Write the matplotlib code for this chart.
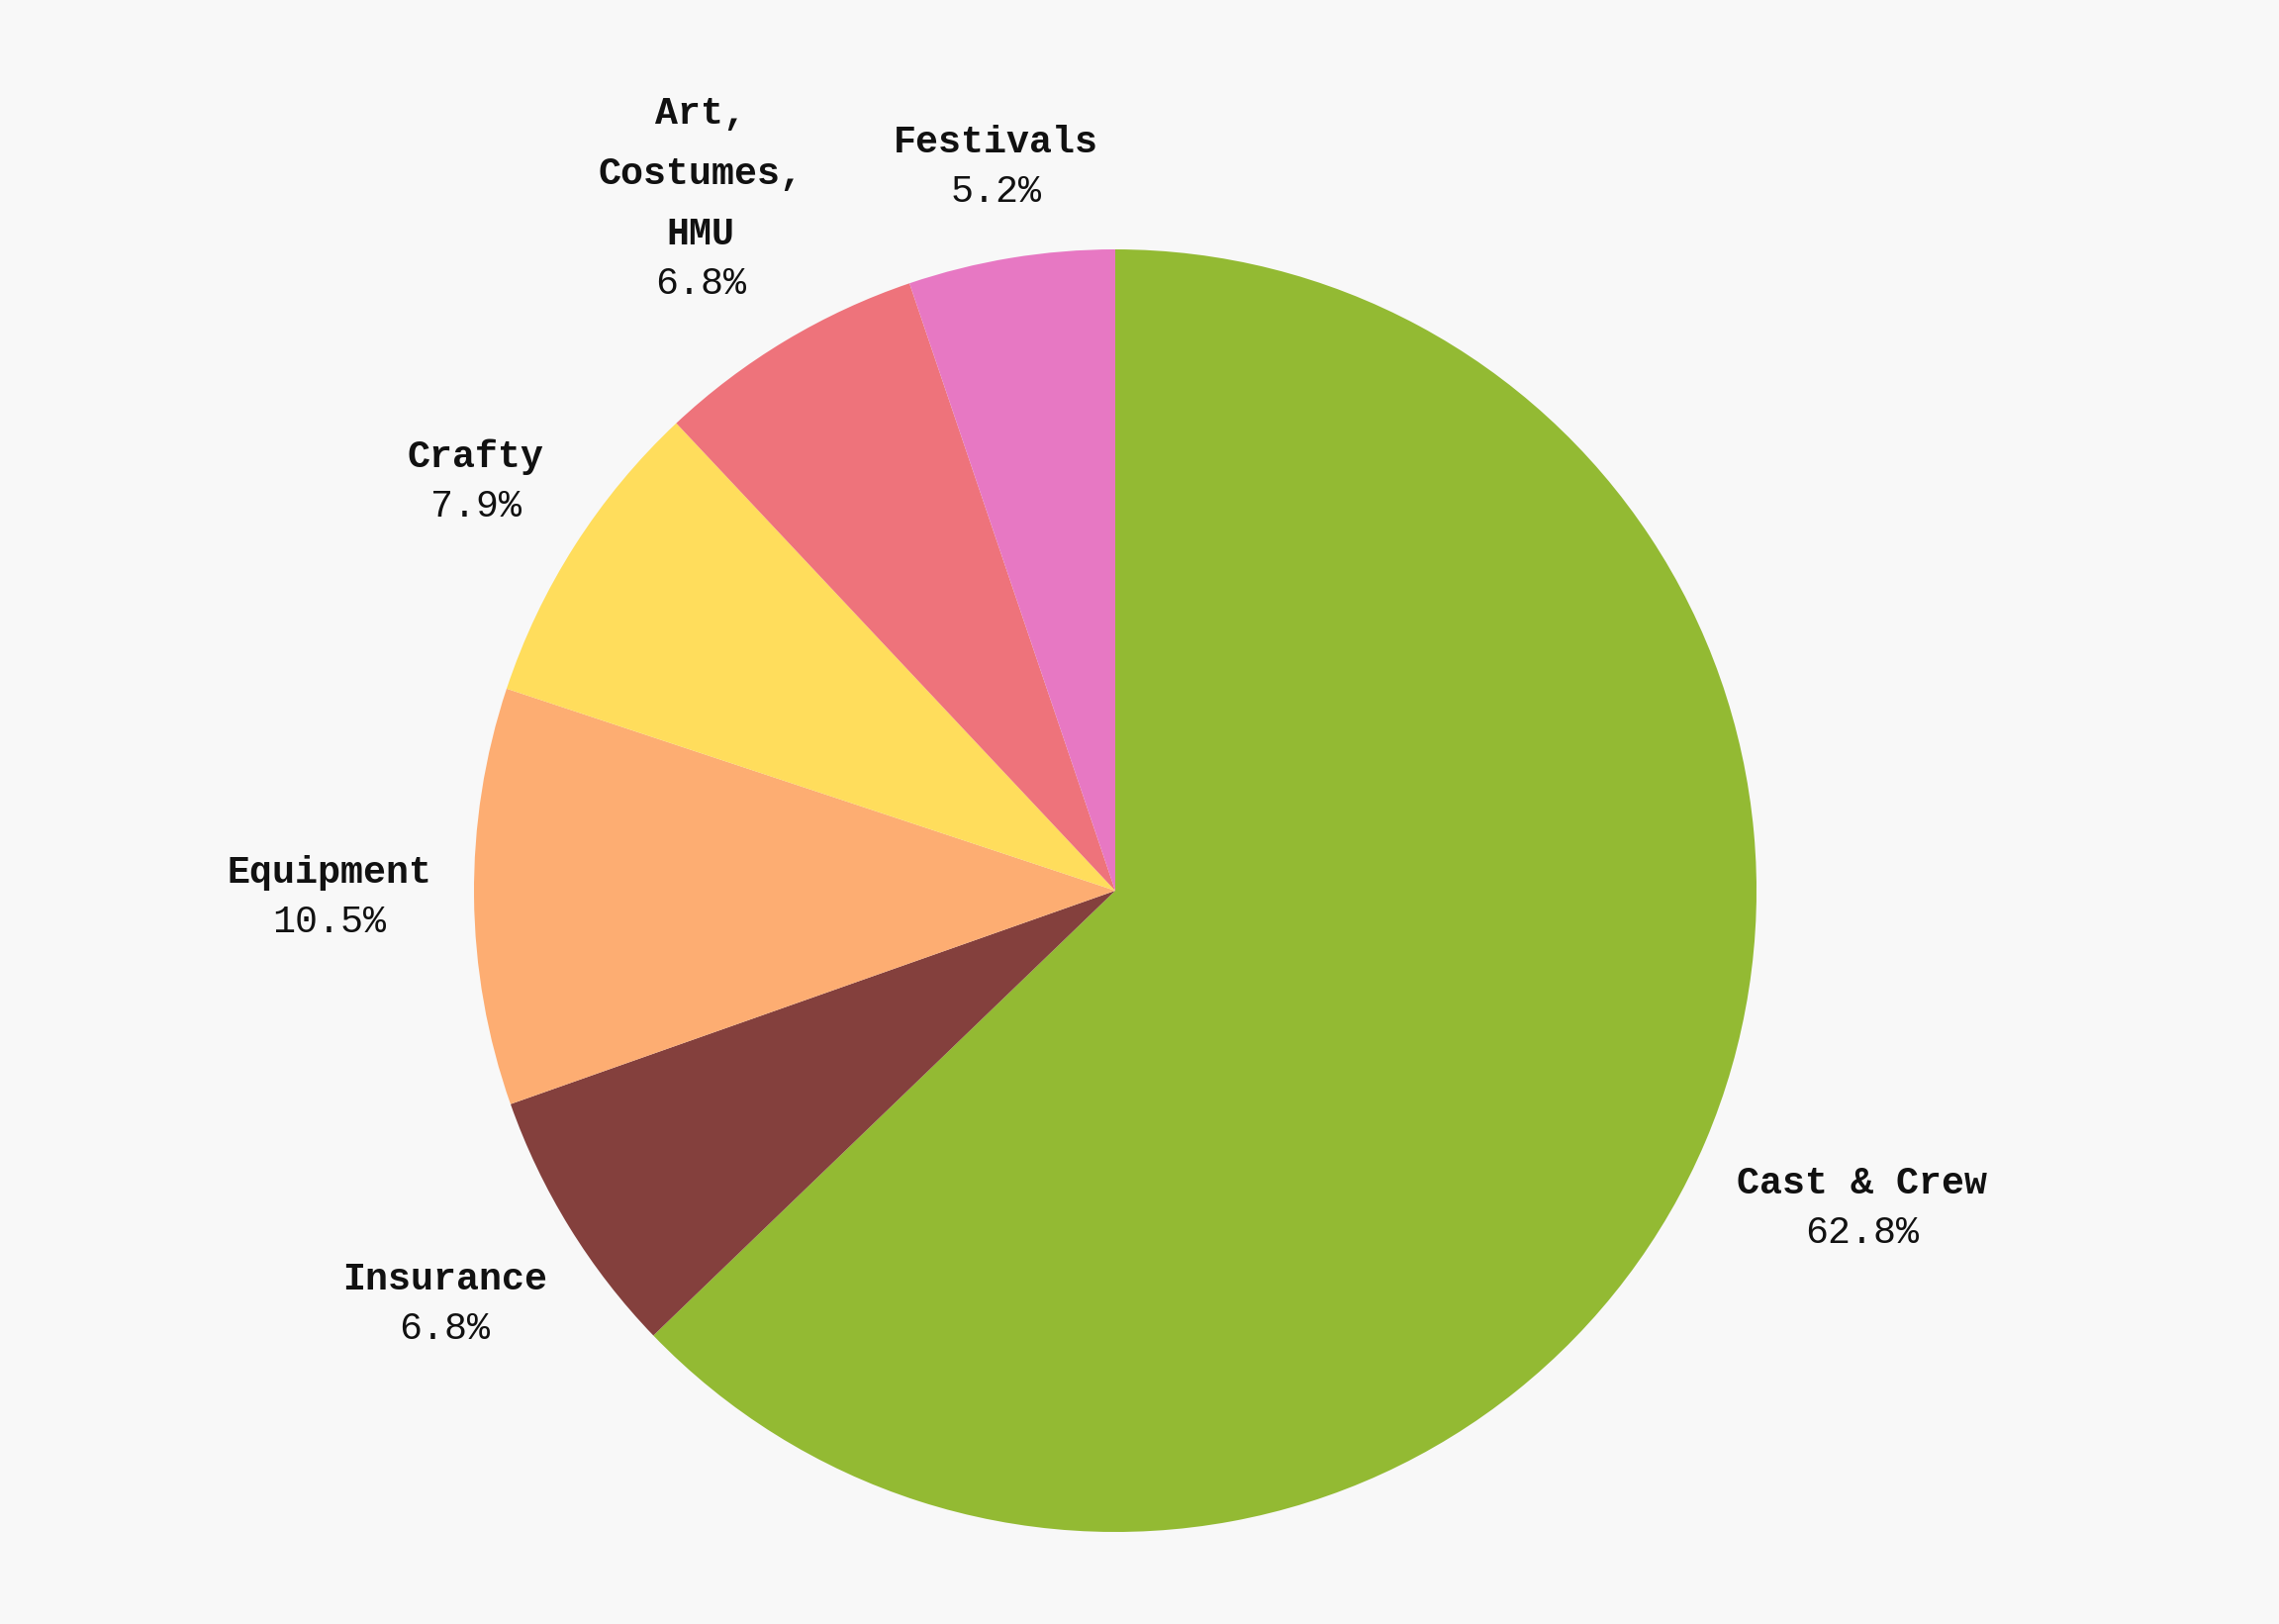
import numpy as np
import matplotlib
matplotlib.use("Agg")
import matplotlib.pyplot as plt

labels = ["Cast & Crew", "Insurance", "Equipment", "Crafty", "Art,\nCostumes,\nHMU", "Festivals"]
values = [62.8, 6.8, 10.5, 7.9, 6.8, 5.2]
colors = ["#93ba33", "#84403d", "#fdad72", "#ffdd5c", "#ee737b", "#e778c3"]

bg = "#f8f8f8"
W, H = 2303, 1641
fig = plt.figure(figsize=(W / 100, H / 100), dpi=100, facecolor=bg)

# pie centre (1127, 900) px, radius 648 px
R = 648
ax = fig.add_axes([(1127 - 1.6 * R) / W, (H - 900 - 1.6 * R) / H, 3.2 * R / W, 3.2 * R / H])
ax.set_facecolor(bg)

wedges, _ = ax.pie(values, colors=colors, startangle=90, counterclock=False,
                   radius=1.0, wedgeprops=dict(linewidth=0))
ax.set_xlim(-1.6, 1.6)
ax.set_ylim(-1.6, 1.6)
ax.set_aspect("equal")
ax.axis("off")

font = ["Liberation Mono", "DejaVu Sans Mono"]
fs = 27.5
line_gap = 50 / R      # baseline of name to baseline of percent
gap = 0.065

fig.canvas.draw()
renderer = fig.canvas.get_renderer()
inv = ax.transData.inverted()
for w, lab, v in zip(wedges, labels, values):
    ang = np.deg2rad((w.theta1 + w.theta2) / 2)
    ux, uy = np.cos(ang), np.sin(ang)
    t1 = ax.text(0, 0, lab, ha="center", va="baseline", family=font,
                 fontweight="bold", fontsize=fs, linespacing=1.9, color="#111111")
    t2 = ax.text(0, -line_gap, f"{v:.1f}%", ha="center", va="baseline", family=font,
                 fontsize=fs, color="#111111")
    b1 = t1.get_window_extent(renderer)
    b2 = t2.get_window_extent(renderer)
    p0 = inv.transform((min(b1.x0, b2.x0), min(b1.y0, b2.y0)))
    p1 = inv.transform((max(b1.x1, b2.x1), max(b1.y1, b2.y1)))
    cx, cy = (p0 + p1) / 2
    hw = (p1[0] - p0[0]) / 2
    hh = (p1[1] - p0[1]) / 2 * 0.8
    d = 1.0 + gap + hw * abs(ux) + hh * abs(uy)
    tx, ty = d * ux - cx, d * uy - cy
    t1.set_position((tx, ty))
    t2.set_position((tx, ty - line_gap))

fig.savefig("out.png", dpi=100, facecolor=bg)
